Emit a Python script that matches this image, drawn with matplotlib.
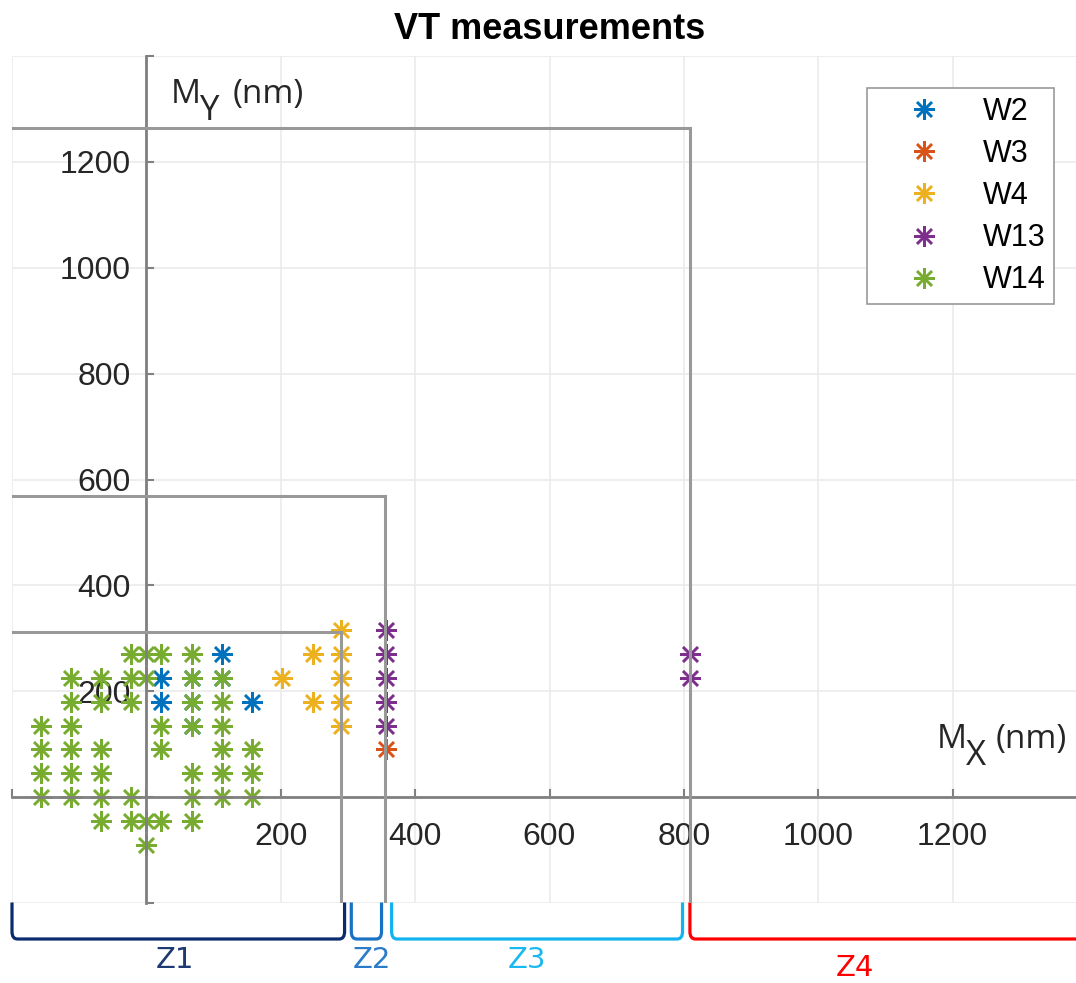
import matplotlib
matplotlib.use("Agg")
import matplotlib.pyplot as plt
from matplotlib.path import Path
from matplotlib.patches import PathPatch

plt.rcParams['font.family'] = ['Liberation Sans', 'DejaVu Sans']

# measured VT points per wafer (nm)
w2_x = [22.5, 22.5, 67.5, 67.5, 67.5, 112.5, 112.5, 157.5]
w2_y = [225, 180, 225, 180, 135, 270, 225, 180]

w3_x = [357]
w3_y = [90]

w4_x = [290, 247.5, 290, 202.5, 290, 247.5, 290, 290]
w4_y = [315, 270, 270, 225, 225, 180, 180, 135]

w13_x = [357, 357, 357, 357, 357, 809, 809]
w13_y = [315, 270, 225, 180, 135, 270, 225]

w14_x = [-22.5, 0, 22.5, 67.5,
         -112.5, -67.5, -22.5, 0, 67.5, 112.5,
         -112.5, -67.5, -22.5, 67.5, 112.5,
         -157.5, -112.5, 22.5, 67.5, 112.5,
         -157.5, -112.5, -67.5, 22.5, 112.5, 157.5,
         -157.5, -112.5, -67.5, 67.5, 112.5, 157.5,
         -157.5, -112.5, -67.5, -22.5, 67.5, 112.5, 157.5,
         -67.5, -22.5, 0, 22.5, 67.5,
         0]
w14_y = [270, 270, 270, 270,
         225, 225, 225, 225, 225, 225,
         180, 180, 180, 180, 180,
         135, 135, 135, 135, 135,
         90, 90, 90, 90, 90, 90,
         45, 45, 45, 45, 45, 45,
         0, 0, 0, 0, 0, 0, 0,
         -45, -45, -45, -45, -45,
         -90]

series_names = ['W2', 'W3', 'W4', 'W13', 'W14']
series_colors = ['#0072BD', '#D95319', '#EDB120', '#7E2F8E', '#77AC30']

# zone boxes: upper-right corners (x, y)
box_x = [290, 355, 809]
box_y = [312, 568, 1264]

# zones along the x axis
zone_names = ['Z1', 'Z2', 'Z3', 'Z4']
zone_start = [-200, 305, 365, 809]
zone_end = [295, 350, 798, 1460]
zone_label_x = [42, 335, 567, 1054]
zone_colors = ['#0b2b6e', '#1a72c4', '#12b4ef', '#ff0000']
zone_text_colors = ['#1f3a73', '#2a7bc9', '#1ab8f0', '#ff0000']

ticks = list(range(-200, 1401, 200))
tick_labels = ['' if t <= 0 or t >= 1400 else str(t) for t in ticks]

fig = plt.figure(figsize=(10.76, 9.83), dpi=100)
ax = fig.add_axes([12 / 1076, 80 / 983, 1075 / 1076, 847 / 983])
ax.set_xlim(-200, 1400)
ax.set_ylim(-200, 1400)

ax.set_xticks(ticks)
ax.set_xticklabels(tick_labels)
ax.set_yticks(ticks)
ax.set_yticklabels(tick_labels)
ax.grid(True, color='#ebebeb', linewidth=1.2, zorder=0)
ax.set_axisbelow(True)

for side in ['top', 'right']:
    ax.spines[side].set_visible(False)
for side in ['left', 'bottom']:
    ax.spines[side].set_position(('data', 0))
    ax.spines[side].set_color('#808080')
    ax.spines[side].set_linewidth(2)
ax.tick_params(direction='in', length=6, width=1.5, color='#808080',
               labelsize=23, labelcolor='#262626')
ax.tick_params(axis='x', pad=18)
ax.tick_params(axis='y', pad=11)

# zone boxes
for bx, by in zip(box_x, box_y):
    ax.plot([-200, bx], [by, by], color='#999999', linewidth=2.2, zorder=2.6)
    ax.plot([bx, bx], [by, -200], color='#999999', linewidth=2.2, zorder=2.6)

all_x = [w2_x, w3_x, w4_x, w13_x, w14_x]
all_y = [w2_y, w3_y, w4_y, w13_y, w14_y]
for xs, ys, name, c in zip(all_x, all_y, series_names, series_colors):
    ax.plot(xs, ys, linestyle='none', marker=(8, 2, 0), markersize=15,
            markeredgewidth=1.8, color=c, label=name, zorder=2)

# axis names, subscript drawn as its own text so it stays large
lab = dict(family='Open Sans', color='#262626', ha='left', va='baseline')
ax.text(36, 1312, 'M', fontsize=24, **lab)
ax.text(79, 1280, 'Y', fontsize=25, **lab)
ax.text(129, 1312, '(nm)', fontsize=24, **lab)
ax.text(1176, 93, 'M', fontsize=24, **lab)
ax.text(1220, 61, 'X', fontsize=25, **lab)
ax.text(1264, 93, '(nm)', fontsize=24, **lab)

ax.set_title('VT measurements', fontweight='bold', fontsize=26, pad=12)

leg = ax.legend(loc='upper right', bbox_to_anchor=(1054 / 1076, 1 - 88 / 983),
                bbox_transform=fig.transFigure, borderaxespad=0, fancybox=False,
                edgecolor='#999999', fontsize=22, numpoints=1,
                handlelength=3.2, handletextpad=0.32, labelspacing=0.4,
                borderpad=0.28, framealpha=1)
leg.get_frame().set_linewidth(1.2)

# zone brackets under the plot
ytop, ybot, rx, ry = -199, -268, 8, 14
for x0, x1, lx, name, c, tc in zip(zone_start, zone_end, zone_label_x,
                                   zone_names, zone_colors, zone_text_colors):
    verts = [(x0, ytop), (x0, ybot + ry), (x0, ybot), (x0 + rx, ybot),
             (x1 - rx, ybot), (x1, ybot), (x1, ybot + ry), (x1, ytop)]
    codes = [Path.MOVETO, Path.LINETO, Path.CURVE3, Path.CURVE3,
             Path.LINETO, Path.CURVE3, Path.CURVE3, Path.LINETO]
    ax.add_patch(PathPatch(Path(verts, codes), facecolor='none', edgecolor=c,
                           linewidth=2.3, clip_on=False))
    ly = -323 if name == 'Z4' else -307
    ax.text(lx, ly, name, color=tc, fontsize=21, ha='center', va='center',
            family=['Liberation Sans Narrow', 'DejaVu Sans'])

fig.savefig('out.png', dpi=100)
